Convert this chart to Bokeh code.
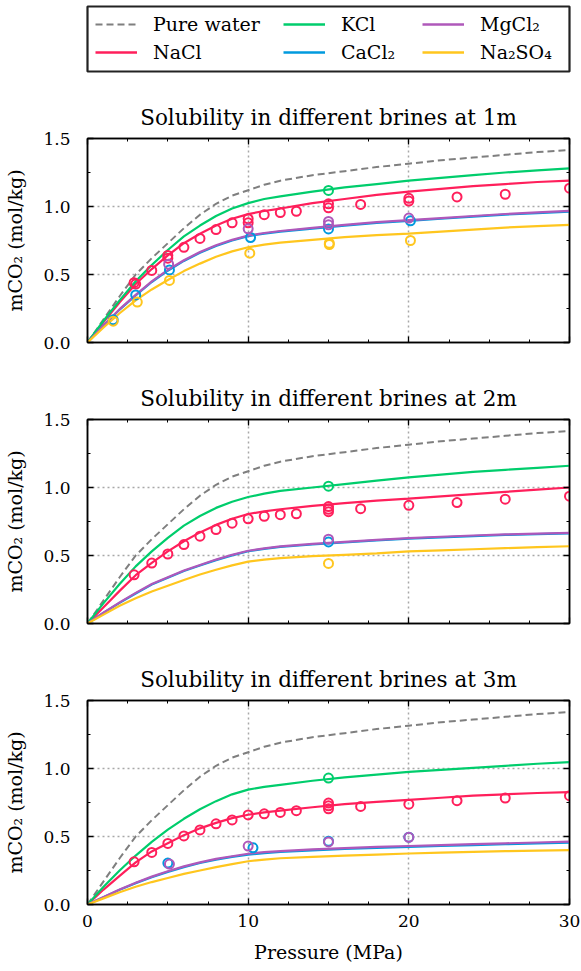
from bokeh.plotting import figure
from bokeh.models import (Range1d, LinearAxis, SingleIntervalTicker, PrintfTickFormatter,
                          Legend, LegendItem, CustomJSTickFormatter)
from bokeh.layouts import column
from bokeh.embed import file_html
from bokeh.resources import INLINE

# ---------------- data ----------------
pressure = [0, 1, 2, 3, 4, 5, 6, 7, 8, 9, 10, 11, 12, 14, 16, 18, 20, 22, 24, 26, 28, 30]

pure_water = [0, 0.17, 0.34, 0.50, 0.62, 0.73, 0.84, 0.94, 1.02, 1.08, 1.12, 1.16, 1.19, 1.23, 1.26, 1.29, 1.315, 1.34, 1.36, 1.38, 1.40, 1.415]

nacl_1m = [0, 0.15, 0.295, 0.43, 0.54, 0.64, 0.73, 0.80, 0.86, 0.91, 0.944, 0.967, 0.985, 1.025, 1.055, 1.085, 1.11, 1.13, 1.15, 1.165, 1.18, 1.19]
kcl_1m = [0, 0.16, 0.31, 0.45, 0.57, 0.68, 0.78, 0.86, 0.93, 0.985, 1.025, 1.055, 1.075, 1.11, 1.14, 1.165, 1.19, 1.21, 1.23, 1.25, 1.265, 1.28]
cacl2_1m = [0, 0.124, 0.242, 0.346, 0.445, 0.528, 0.60, 0.66, 0.71, 0.75, 0.782, 0.80, 0.815, 0.838, 0.86, 0.88, 0.895, 0.91, 0.925, 0.94, 0.952, 0.963]
mgcl2_1m = [0, 0.125, 0.245, 0.35, 0.45, 0.534, 0.605, 0.665, 0.715, 0.755, 0.787, 0.805, 0.82, 0.843, 0.865, 0.885, 0.90, 0.915, 0.93, 0.945, 0.957, 0.968]
na2so4_1m = [0, 0.11, 0.215, 0.31, 0.39, 0.46, 0.525, 0.58, 0.63, 0.67, 0.70, 0.72, 0.735, 0.755, 0.775, 0.79, 0.80, 0.815, 0.83, 0.845, 0.855, 0.865]

nacl_2m = [0, 0.12, 0.24, 0.355, 0.445, 0.53, 0.605, 0.67, 0.725, 0.77, 0.805, 0.825, 0.84, 0.865, 0.885, 0.903, 0.918, 0.935, 0.952, 0.968, 0.984, 1.0]
kcl_2m = [0, 0.15, 0.29, 0.42, 0.53, 0.63, 0.72, 0.79, 0.85, 0.895, 0.93, 0.955, 0.975, 1.0, 1.025, 1.05, 1.075, 1.095, 1.115, 1.13, 1.145, 1.16]
cacl2_2m = [0, 0.079, 0.152, 0.221, 0.286, 0.336, 0.386, 0.426, 0.466, 0.501, 0.531, 0.549, 0.563, 0.581, 0.596, 0.611, 0.624, 0.634, 0.643, 0.651, 0.657, 0.663]
mgcl2_2m = [0, 0.08, 0.155, 0.225, 0.29, 0.34, 0.39, 0.43, 0.47, 0.505, 0.535, 0.553, 0.567, 0.585, 0.60, 0.615, 0.628, 0.638, 0.647, 0.655, 0.661, 0.667]
na2so4_2m = [0, 0.065, 0.13, 0.185, 0.235, 0.278, 0.32, 0.36, 0.395, 0.427, 0.455, 0.47, 0.48, 0.495, 0.505, 0.515, 0.53, 0.538, 0.546, 0.554, 0.561, 0.568]

nacl_3m = [0, 0.11, 0.21, 0.31, 0.39, 0.45, 0.51, 0.56, 0.60, 0.635, 0.66, 0.677, 0.69, 0.715, 0.738, 0.755, 0.77, 0.785, 0.80, 0.81, 0.82, 0.827]
kcl_3m = [0, 0.13, 0.25, 0.36, 0.46, 0.55, 0.63, 0.70, 0.76, 0.81, 0.845, 0.865, 0.88, 0.91, 0.935, 0.955, 0.975, 0.99, 1.005, 1.02, 1.035, 1.047]
cacl2_3m = [0, 0.054, 0.108, 0.157, 0.20, 0.24, 0.275, 0.305, 0.33, 0.35, 0.366, 0.378, 0.386, 0.398, 0.408, 0.416, 0.423, 0.43, 0.437, 0.443, 0.449, 0.455]
mgcl2_3m = [0, 0.055, 0.11, 0.16, 0.205, 0.245, 0.28, 0.31, 0.335, 0.355, 0.373, 0.385, 0.393, 0.405, 0.415, 0.423, 0.43, 0.437, 0.444, 0.45, 0.456, 0.462]
na2so4_3m = [0, 0.045, 0.09, 0.13, 0.165, 0.195, 0.225, 0.25, 0.275, 0.297, 0.318, 0.33, 0.34, 0.35, 0.359, 0.367, 0.375, 0.381, 0.387, 0.392, 0.396, 0.40]

# experimental points
nacl_1m_p = [2.9, 3.0, 4.0, 5.0, 5.0, 6.0, 7.0, 8.0, 9.0, 10.0, 10.0, 11.0, 12.0, 13.0, 15.0, 15.0, 17.0, 20.0, 20.0, 23.0, 26.0, 30.0]
nacl_1m_v = [0.44, 0.43, 0.53, 0.62, 0.64, 0.70, 0.765, 0.83, 0.88, 0.91, 0.88, 0.94, 0.955, 0.965, 1.02, 0.99, 1.015, 1.06, 1.04, 1.07, 1.09, 1.135]
kcl_1m_p = [15.0]
kcl_1m_v = [1.118]
cacl2_1m_p = [1.6, 3.0, 5.1, 10.15, 15.0, 20.1]
cacl2_1m_v = [0.167, 0.35, 0.534, 0.772, 0.835, 0.895]
mgcl2_1m_p = [5.05, 10.0, 15.0, 15.0, 20.0]
mgcl2_1m_v = [0.576, 0.836, 0.89, 0.865, 0.915]
na2so4_1m_p = [1.6, 3.1, 5.1, 10.1, 15.05, 15.05, 20.1]
na2so4_1m_v = [0.157, 0.297, 0.456, 0.657, 0.72, 0.73, 0.75]

nacl_2m_p = [2.9, 4.0, 5.0, 6.0, 7.0, 8.0, 9.0, 10.0, 11.0, 12.0, 13.0, 15.0, 15.0, 15.0, 17.0, 20.0, 23.0, 26.0, 30.0]
nacl_2m_v = [0.358, 0.444, 0.511, 0.58, 0.642, 0.691, 0.738, 0.77, 0.788, 0.80, 0.807, 0.86, 0.84, 0.822, 0.844, 0.869, 0.889, 0.914, 0.936]
kcl_2m_p = [15.0]
kcl_2m_v = [1.01]
cacl2_2m_p = [15.0]
cacl2_2m_v = [0.60]
mgcl2_2m_p = [15.0]
mgcl2_2m_v = [0.62]
na2so4_2m_p = [15.0]
na2so4_2m_v = [0.442]

nacl_3m_p = [2.9, 4.0, 5.0, 6.0, 7.0, 8.0, 9.0, 10.0, 11.0, 12.0, 13.0, 15.0, 15.0, 15.0, 17.0, 20.0, 23.0, 26.0, 30.0]
nacl_3m_v = [0.314, 0.383, 0.449, 0.504, 0.548, 0.593, 0.622, 0.659, 0.667, 0.677, 0.69, 0.746, 0.726, 0.704, 0.721, 0.738, 0.763, 0.783, 0.80]
kcl_3m_p = [15.0]
kcl_3m_v = [0.93]
cacl2_3m_p = [5.0, 10.3, 15.0, 20.0]
cacl2_3m_v = [0.305, 0.417, 0.465, 0.495]
mgcl2_3m_p = [5.1, 10.0, 15.0, 20.0]
mgcl2_3m_v = [0.297, 0.43, 0.46, 0.494]
na2so4_3m_p = []
na2so4_3m_v = []

series_names = ["Pure water", "NaCl", "KCl", "CaCl₂", "MgCl₂", "Na₂SO₄"]
colors = {"Pure water": "#7f7f7f", "NaCl": "#FF1F5B", "KCl": "#00CD6C",
          "CaCl₂": "#009ADE", "MgCl₂": "#AF58BA", "Na₂SO₄": "#FFC61E"}

panels = [
    ("Solubility in different brines at 1m",
     {"NaCl": nacl_1m, "KCl": kcl_1m, "CaCl₂": cacl2_1m, "MgCl₂": mgcl2_1m, "Na₂SO₄": na2so4_1m},
     {"NaCl": (nacl_1m_p, nacl_1m_v), "KCl": (kcl_1m_p, kcl_1m_v), "CaCl₂": (cacl2_1m_p, cacl2_1m_v),
      "MgCl₂": (mgcl2_1m_p, mgcl2_1m_v), "Na₂SO₄": (na2so4_1m_p, na2so4_1m_v)}),
    ("Solubility in different brines at 2m",
     {"NaCl": nacl_2m, "KCl": kcl_2m, "CaCl₂": cacl2_2m, "MgCl₂": mgcl2_2m, "Na₂SO₄": na2so4_2m},
     {"NaCl": (nacl_2m_p, nacl_2m_v), "KCl": (kcl_2m_p, kcl_2m_v), "CaCl₂": (cacl2_2m_p, cacl2_2m_v),
      "MgCl₂": (mgcl2_2m_p, mgcl2_2m_v), "Na₂SO₄": (na2so4_2m_p, na2so4_2m_v)}),
    ("Solubility in different brines at 3m",
     {"NaCl": nacl_3m, "KCl": kcl_3m, "CaCl₂": cacl2_3m, "MgCl₂": mgcl2_3m, "Na₂SO₄": na2so4_3m},
     {"NaCl": (nacl_3m_p, nacl_3m_v), "KCl": (kcl_3m_p, kcl_3m_v), "CaCl₂": (cacl2_3m_p, cacl2_3m_v),
      "MgCl₂": (mgcl2_3m_p, mgcl2_3m_v), "Na₂SO₄": (na2so4_3m_p, na2so4_3m_v)}),
]

FONT = "DejaVu Serif"
TICK_FS = "17px"
LABEL_FS = "19px"
TITLE_FS = "21.5px"
LEGEND_FS = "19px"
W = 581
LEFT, RIGHT = 87, 12


def style_axis(ax, labels):
    ax.major_tick_in = 6
    ax.major_tick_out = 0
    ax.minor_tick_in = 3
    ax.minor_tick_out = 0
    ax.axis_line_color = "black"
    ax.axis_line_width = 1.5
    ax.major_tick_line_color = "black"
    ax.minor_tick_line_color = "black"
    ax.major_tick_line_width = 1.3
    ax.minor_tick_line_width = 1.0
    ax.major_label_text_font = FONT
    ax.major_label_text_color = "black"
    ax.major_label_text_font_size = TICK_FS
    if not labels:
        ax.formatter = CustomJSTickFormatter(code="return ''")
        ax.major_label_standoff = 0


def label_axis(ax, text, label_standoff, tick_standoff):
    ax.axis_label = text
    ax.axis_label_text_font = FONT
    ax.axis_label_text_font_style = "normal"
    ax.axis_label_text_font_size = LABEL_FS
    ax.axis_label_text_color = "black"
    ax.axis_label_standoff = label_standoff
    ax.major_label_standoff = tick_standoff


def make_panel(title, curves, points, last):
    bottom = 67 if last else 23
    height = 54 + 204 + bottom
    p = figure(width=W, height=height, x_range=Range1d(0, 30), y_range=Range1d(0, 1.5),
               output_backend="svg", toolbar_location=None,
               min_border_left=LEFT, min_border_right=RIGHT,
               min_border_top=54, min_border_bottom=bottom)
    p.title.text = title
    p.title.text_font = FONT
    p.title.text_font_size = TITLE_FS
    p.title.text_font_style = "normal"
    p.title.text_color = "black"
    p.title.align = "center"
    p.title.standoff = 17

    xax = p.xaxis[0]
    yax = p.yaxis[0]
    xax.ticker = SingleIntervalTicker(interval=10, num_minor_ticks=4)
    yax.ticker = SingleIntervalTicker(interval=0.5, num_minor_ticks=2)
    style_axis(xax, last)
    style_axis(yax, True)
    yax.formatter = PrintfTickFormatter(format="%.1f")
    label_axis(yax, "mCO₂ (mol/kg)", 14, 17)
    if last:
        label_axis(xax, "Pressure (MPa)", 11, 10)

    top = LinearAxis(ticker=SingleIntervalTicker(interval=10, num_minor_ticks=4))
    right = LinearAxis(ticker=SingleIntervalTicker(interval=0.5, num_minor_ticks=2))
    style_axis(top, False)
    style_axis(right, False)
    p.add_layout(top, "above")
    p.add_layout(right, "right")

    p.grid.grid_line_color = "#a8a8a8"
    p.grid.grid_line_dash = "2 3"
    p.grid.grid_line_width = 1.5
    p.outline_line_color = "black"
    p.outline_line_width = 1.5

    p.line(pressure, pure_water, line_color=colors["Pure water"], line_width=2, line_dash="7 4")
    for name in series_names[1:]:
        p.line(pressure, curves[name], line_color=colors[name], line_width=2.2)
    for name in series_names[1:]:
        px, pv = points[name]
        if px:
            p.scatter(px, pv, marker="circle", size=9, fill_color=None,
                      line_color=colors[name], line_width=2)
    return p


# ---- legend strip ----
lf = figure(width=W, height=84, x_range=Range1d(0, 1), y_range=Range1d(0, 1),
            output_backend="svg", toolbar_location=None,
            min_border_left=LEFT, min_border_right=RIGHT, min_border_top=6, min_border_bottom=13,
            x_axis_location=None, y_axis_location=None)
lf.grid.visible = False
lf.outline_line_color = "#222222"
lf.outline_line_width = 2.2

rend = {}
for name in series_names:
    if name == "Pure water":
        rend[name] = lf.line([-5, -4], [-5, -5], line_color=colors[name], line_width=2, line_dash="7 4")
    else:
        rend[name] = lf.line([-5, -4], [-5, -5], line_color=colors[name], line_width=2.5)

col_groups = [(["Pure water", "NaCl"], 1), (["KCl", "CaCl₂"], 189), (["MgCl₂", "Na₂SO₄"], 328)]
for names, xoff in col_groups:
    leg = Legend(items=[LegendItem(label=n, renderers=[rend[n]]) for n in names],
                 location=(xoff, 1), orientation="vertical", margin=0, padding=7, spacing=6,
                 glyph_width=42, glyph_height=20, label_height=20, label_standoff=16,
                 label_text_font=FONT, label_text_font_size=LEGEND_FS, label_text_color="black",
                 border_line_alpha=0, background_fill_alpha=0)
    lf.add_layout(leg)

figs = [lf] + [make_panel(t, c, pts, i == 2) for i, (t, c, pts) in enumerate(panels)]
layout = column(*figs, spacing=0)

open("out.html", "w").write(file_html(layout, INLINE))
